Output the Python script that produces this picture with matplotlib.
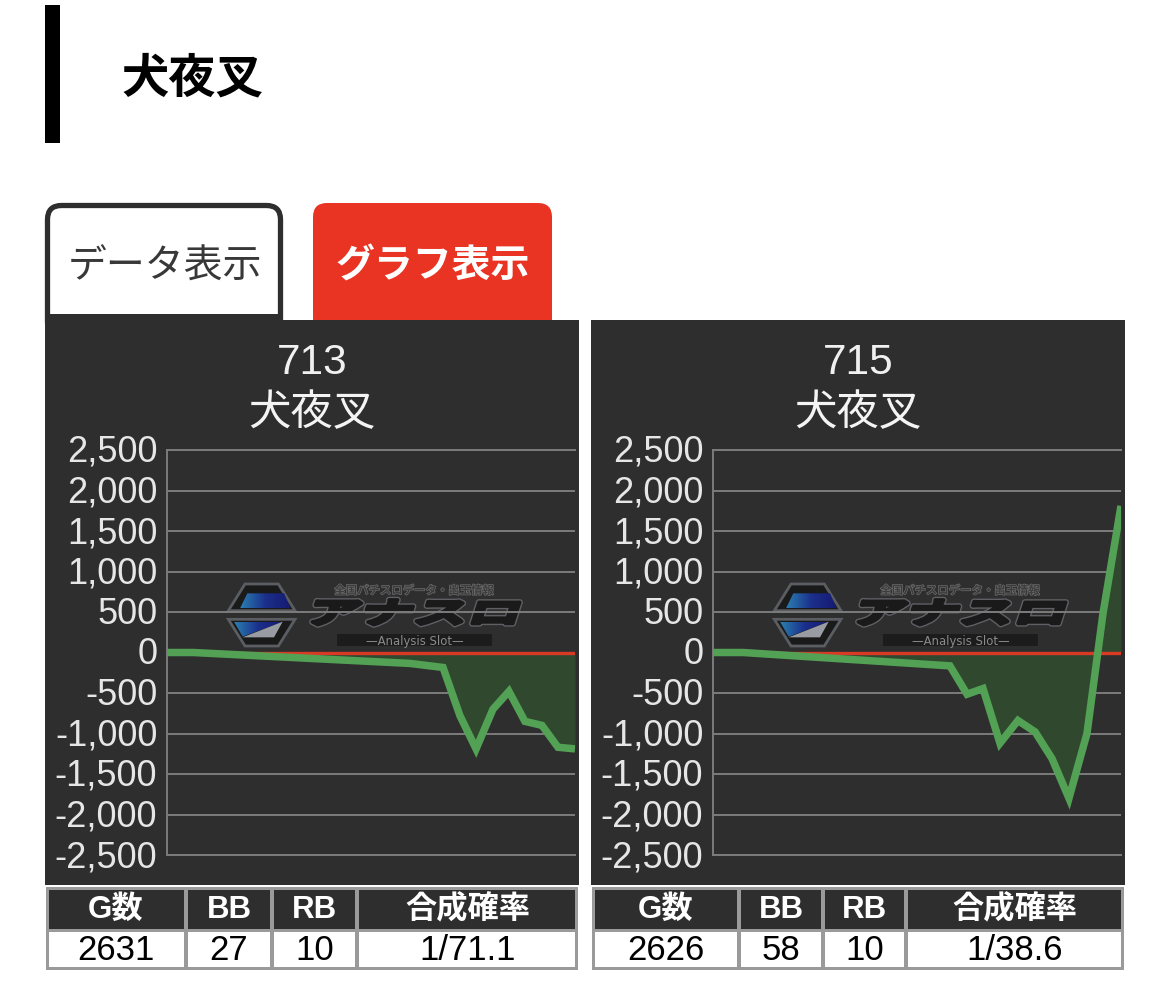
import numpy as np
import matplotlib
matplotlib.use("Agg")
import matplotlib.pyplot as plt
import matplotlib.patheffects as pe
from matplotlib.patches import Rectangle, FancyBboxPatch, Polygon
from matplotlib.transforms import Affine2D, ScaledTranslation

# ---- data ----
page_title = "犬夜叉"
tab_labels = ["データ表示", "グラフ表示"]
machine_numbers = ["713", "715"]
machine_name = "犬夜叉"
y_ticks = [2500, 2000, 1500, 1000, 500, 0, -500, -1000, -1500, -2000, -2500]
y_tick_labels = ["2,500", "2,000", "1,500", "1,000", "500", "0", "-500",
                 "-1,000", "-1,500", "-2,000", "-2,500"]
games_left = [0, 168, 1567, 1780, 1889, 1993, 2102, 2205, 2308, 2418, 2521, 2631]
diff_left = [0, 0, -135, -185, -780, -1190, -700, -480, -850, -900, -1170, -1190]
games_right = [0, 193, 1525, 1635, 1738, 1847, 1963, 2073, 2182, 2291, 2407, 2510, 2626]
diff_right = [0, 0, -165, -515, -445, -1120, -840, -980, -1310, -1800, -1000, 480, 1810]
table_headers = ["G数", "BB", "RB", "合成確率"]
row_left = ["2631", "27", "10", "1/71.1"]
row_right = ["2626", "58", "10", "1/38.6"]
logo_top = "全国パチスロデータ・出玉情報"
logo_main = "アナスロ"
logo_sub = "—Analysis Slot—"

# ---- style ----
JP = ["Noto Sans CJK JP", "DejaVu Sans"]
LAT = ["Liberation Sans", "DejaVu Sans"]
DARK = "#2e2e2e"
RED = "#e93323"
GREY = "#7c7c7c"
GREEN = "#52a155"
FILL = "#30492e"
ZERO = "#d93a26"
BORDER = "#9a9a9a"
TICK = "#e6e6e6"

W, H = 1170, 987
fig = plt.figure(figsize=(W / 100, H / 100), dpi=100, facecolor="white")
bg = fig.add_axes([0, 0, 1, 1], zorder=0)
bg.set_xlim(0, W)
bg.set_ylim(H - 1, -1)
bg.axis("off")


class Slant(pe.AbstractPathEffect):
    """Stretch and slant a text around a display point, with a heavy outline."""

    def __init__(self, cx, cy, sx, skew, outer, outer_lw, inner, inner_lw):
        super().__init__()
        self.extra = Affine2D().translate(-cx, -cy).scale(sx, 1).skew_deg(skew, 0).translate(cx, cy)
        self.strokes = [(outer, outer_lw), (inner, inner_lw)]

    def draw_path(self, renderer, gc, tpath, affine, rgbFace=None):
        tr = affine + self.extra
        for color, lw in self.strokes:
            g = renderer.new_gc()
            g.copy_properties(gc)
            g.set_foreground(color)
            g.set_linewidth(lw)
            renderer.draw_path(g, tpath, tr, None)
            g.restore()
        renderer.draw_path(gc, tpath, tr, rgbFace)


def rect(x0, y0, x1, y1, color, z=1):
    bg.add_patch(Rectangle((x0, y0), x1 - x0, y1 - y0, facecolor=color, edgecolor="none", zorder=z))


# page header
rect(45, 5, 60, 143, "black")
bg.text(121, 77, page_title, family=JP, fontsize=34, fontweight="bold", color="black", ha="left", va="center")

# tabs
bg.add_patch(FancyBboxPatch((47.5, 205.5), 233, 130, boxstyle="round,pad=0,rounding_size=14",
                            facecolor="white", edgecolor=DARK, linewidth=3.8, zorder=1))
bg.add_patch(FancyBboxPatch((313, 203), 239, 130, boxstyle="round,pad=0,rounding_size=14",
                            facecolor=RED, edgecolor="none", zorder=1))
rect(45, 314, 283, 322, DARK, 2)
bg.text(165, 266, tab_labels[0], family=JP, fontsize=28, color="#383838", ha="center", va="center", zorder=3)
bg.text(432.5, 265, tab_labels[1], family=JP, fontsize=28, fontweight="bold", color="white", ha="center", va="center", zorder=3)


def draw_logo(dx):
    def P(pts, fc, ec="none", lw=0, z=2):
        xy = [(160 + x / 3 + dx, 560 + y / 3) for x, y in pts]
        poly = Polygon(xy, closed=True, facecolor=fc, edgecolor=ec, linewidth=lw, zorder=z)
        bg.add_patch(poly)
        return poly
    P([(205, 152), (255, 72), (355, 72), (405, 152)], "#1a1a1a", "#5a5d62", 2)
    P([(205, 178), (405, 178), (355, 258), (255, 258)], "#1a1a1a", "#5a5d62", 2)
    grad = np.linspace(0, 1, 64).reshape(1, -1)
    cmap = matplotlib.colors.LinearSegmentedColormap.from_list("logo", ["#2a7fb0", "#1b2f8c", "#161a70"])
    top = P([(240, 145), (262, 100), (372, 100), (392, 145)], "none", z=2)
    im = bg.imshow(grad, extent=(160 + 240 / 3 + dx, 160 + 392 / 3 + dx, 560 + 145 / 3, 560 + 100 / 3),
                   cmap=cmap, aspect="auto", zorder=3)
    im.set_clip_path(top)
    low = P([(222, 185), (368, 185), (248, 230)], "none", z=2)
    im2 = bg.imshow(grad, extent=(160 + 222 / 3 + dx, 160 + 368 / 3 + dx, 560 + 230 / 3, 560 + 185 / 3),
                    cmap=cmap, aspect="auto", zorder=3)
    im2.set_clip_path(low)
    P([(368, 185), (342, 232), (248, 232)], "#9a9ca3", z=3)
    bg.set_xlim(0, W)
    bg.set_ylim(H - 1, -1)
    bg.text(414 + dx, 590.5, logo_top, family=JP, fontsize=8.2, fontweight="bold", color="#3c3c3c",
            ha="center", va="center", zorder=3,
            path_effects=[pe.withStroke(linewidth=0.9, foreground="#6e6e6e")])
    cx = 414 + dx
    cy = H - 616
    bg.text(414 + dx, 614, logo_main, family=JP, fontsize=21, fontweight="bold", color="#1a1a1a",
            ha="center", va="center", zorder=3,
            path_effects=[Slant(cx, cy, 1.85, 18, "#5e6064", 4.6, "#1a1a1a", 2.6)])
    rect(337 + dx, 634, 492 + dx, 645.5, "#1c1c1c", 3)
    bg.text(414.5 + dx, 640.5, logo_sub, family=["DejaVu Sans"], fontsize=8.4, color="#8a8a8a",
            ha="center", va="center", zorder=4)


def panel(px0, ax_x0, num, games, diff, row, dx, cols):
    rect(px0, 320, px0 + 534, 885, DARK, 2)
    cx = px0 + 267
    bg.text(cx, 362, num, family=LAT, fontsize=30.5, color="#f0f0f0", ha="center", va="center", zorder=3)
    bg.text(cx, 412, machine_name, family=JP, fontsize=30.5, color="#f4f4f4", ha="center", va="center", zorder=3)
    draw_logo(dx)

    ax = fig.add_axes([ax_x0 / W, 1 - 856 / H, 408 / W, 405 / H], zorder=2)
    ax.patch.set_alpha(0)
    ax.set_xlim(0, max(games))
    ax.set_ylim(-2500, 2500)
    ax.set_xticks([])
    ax.set_yticks(y_ticks)
    ax.set_yticklabels(y_tick_labels, family=LAT, fontsize=26, color=TICK)
    ax.tick_params(axis="y", length=0, pad=7)
    shift = ScaledTranslation(0, 2.5 / 100, fig.dpi_scale_trans)
    for lab in ax.get_yticklabels():
        lab.set_transform(lab.get_transform() + shift)
    ax.grid(axis="y", color=GREY, linewidth=1.4, zorder=1)
    for name in ["top", "bottom", "left"]:
        ax.spines[name].set_color(GREY)
        ax.spines[name].set_linewidth(1.4)
    ax.spines["right"].set_visible(False)
    ax.fill_between(games, diff, 0, color=FILL, linewidth=0, zorder=2)
    ax.axhline(0, color=ZERO, linewidth=2.4, zorder=3)
    ax.plot(games, diff, color=GREEN, linewidth=5.4, solid_joinstyle="miter", solid_capstyle="butt", zorder=4)

    # table
    rect(cols[0], 887, cols[-1], 970, BORDER, 3)
    for i in range(4):
        a, b = cols[i] + (3 if i == 0 else 2), cols[i + 1] - (3 if i == 3 else 2)
        rect(a, 890, b, 929, DARK, 4)
        rect(a, 932, b, 967, "white", 4)
        mid = (cols[i] + cols[i + 1]) / 2
        bg.text(mid, 909, table_headers[i], family=LAT[:1] + JP, fontsize=22.5, fontweight="bold", color="white",
                ha="center", va="center", zorder=5)
        bg.text(mid, 950, row[i], family=LAT, fontsize=25, color="black", ha="center", va="center", zorder=5)


panel(45, 167, machine_numbers[0], games_left, diff_left, row_left, 0, [46, 186, 272, 357, 578])
panel(591, 713, machine_numbers[1], games_right, diff_right, row_right, 546, [592, 739, 823, 906, 1124])

fig.savefig("out.png", dpi=100, facecolor="white")
